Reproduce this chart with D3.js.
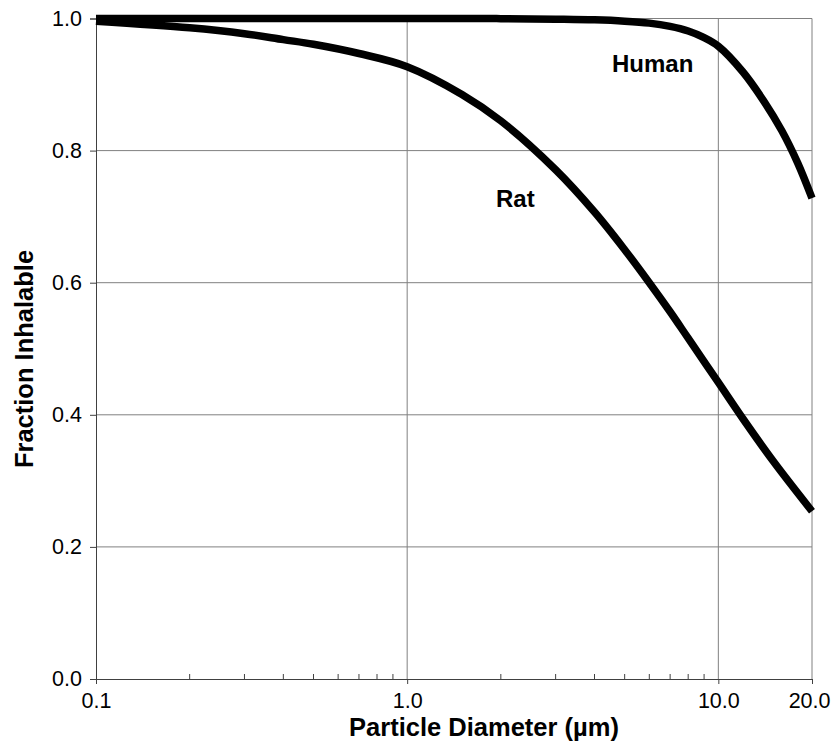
<!DOCTYPE html>
<html>
<head>
<meta charset="utf-8">
<script src="https://cdn.jsdelivr.net/npm/d3@7"></script>
<style>
  html, body { margin: 0; padding: 0; background: #fff; }
  svg { display: block; font-family: "Liberation Sans", Arial, sans-serif; }
</style>
</head>
<body>
<svg id="chart" width="834" height="755"></svg>
<script>
// Inhalable fraction vs. particle diameter (log scale)
const ratDiameter = [0.1, 0.2, 0.3, 0.4, 0.5, 0.7, 1, 1.5, 2, 3, 4, 5, 6, 7, 8, 10, 12, 15, 20];
const ratFraction = [0.996, 0.986, 0.977, 0.968, 0.961, 0.947, 0.927, 0.885, 0.845, 0.771, 0.707, 0.650, 0.600, 0.556, 0.516, 0.449, 0.394, 0.330, 0.254];

const humanDiameter = [0.1, 1, 2, 3, 4, 5, 6, 7, 8, 9, 10, 12, 14, 16, 18, 20];
const humanFraction = [1.0, 1.0, 0.9998, 0.999, 0.998, 0.996, 0.993, 0.988, 0.981, 0.971, 0.958, 0.919, 0.875, 0.830, 0.781, 0.728];

const xTickValues = [0.1, 1, 10, 20];
const xTickLabels = ["0.1", "1.0", "10.0", "20.0"];
const xGridValues = [1, 10];
const xMinorValues = [0.2, 0.3, 0.4, 0.5, 0.6, 0.7, 0.8, 0.9, 2, 3, 4, 5, 6, 7, 8, 9];
const yTickValues = [0, 0.2, 0.4, 0.6, 0.8, 1.0];
const yTickLabels = ["0.0", "0.2", "0.4", "0.6", "0.8", "1.0"];

const svg = d3.select("#chart");
const pageW = 834;
const plotL = 96, plotR = 812, plotT = 18.5, plotB = 679;

const x = d3.scaleLog().domain([0.1, 20]).range([plotL, plotR]);
const y = d3.scaleLinear().domain([0, 1]).range([plotB, plotT]);

const gridColor = "#808080";
const axisColor = "#404040";
const tickFont = 21.5;

// horizontal gridlines
svg.append("g").selectAll("line")
  .data(yTickValues.filter(v => v > 0))
  .join("line")
  .attr("x1", plotL).attr("x2", plotR)
  .attr("y1", d => y(d)).attr("y2", d => y(d))
  .attr("stroke", gridColor).attr("stroke-width", 1);

// vertical gridlines and right border
svg.append("g").selectAll("line")
  .data(xGridValues.concat([20]))
  .join("line")
  .attr("x1", d => x(d)).attr("x2", d => x(d))
  .attr("y1", plotT).attr("y2", plotB)
  .attr("stroke", gridColor).attr("stroke-width", 1);

// left axis
const yAxis = svg.append("g").attr("transform", `translate(${plotL},0)`)
  .call(d3.axisLeft(y).tickValues(yTickValues).tickSize(6).tickPadding(8)
    .tickFormat((d, i) => yTickLabels[i]));
yAxis.select(".domain").attr("stroke", axisColor);
yAxis.selectAll(".tick line").attr("stroke", axisColor);
yAxis.selectAll("text").attr("font-size", tickFont).attr("fill", "#000")
  .attr("font-family", "Liberation Sans, Arial, sans-serif");

// bottom axis
const xAxis = svg.append("g").attr("transform", `translate(0,${plotB})`)
  .call(d3.axisBottom(x).tickValues(xTickValues).tickSize(5).tickPadding(9)
    .tickFormat((d, i) => xTickLabels[i]));
xAxis.select(".domain").attr("stroke", axisColor);
xAxis.selectAll(".tick line").attr("stroke", axisColor);
xAxis.selectAll("text").attr("font-size", tickFont).attr("fill", "#000")
  .attr("font-family", "Liberation Sans, Arial, sans-serif");
// keep the last label inside the page
xAxis.selectAll(".tick text").each(function (d) {
  const w = this.getComputedTextLength();
  const overflow = x(d) + w / 2 - (pageW - 4);
  if (overflow > 0) d3.select(this).attr("dx", -overflow);
});

// minor ticks on x axis, pointing into the plot
svg.append("g").selectAll("line")
  .data(xMinorValues)
  .join("line")
  .attr("x1", d => x(d)).attr("x2", d => x(d))
  .attr("y1", plotB).attr("y2", plotB - 5)
  .attr("stroke", axisColor).attr("stroke-width", 1);

// top border
svg.append("line")
  .attr("x1", plotL).attr("x2", plotR).attr("y1", plotT).attr("y2", plotT)
  .attr("stroke", gridColor).attr("stroke-width", 1);

// curves
const line = d3.line()
  .x(d => x(d[0]))
  .y(d => y(d[1]))
  .curve(d3.curveCatmullRom.alpha(0.5));

const ratData = ratDiameter.map((d, i) => [d, ratFraction[i]]);
const humanData = humanDiameter.map((d, i) => [d, humanFraction[i]]);

[ratData, humanData].forEach(data => {
  svg.append("path")
    .datum(data)
    .attr("d", line)
    .attr("fill", "none")
    .attr("stroke", "#000")
    .attr("stroke-width", 7.5)
    .attr("stroke-linejoin", "round")
    .attr("stroke-linecap", "butt");
});

// series labels
svg.append("text").text("Human")
  .attr("x", 612).attr("y", 72)
  .attr("font-size", 24).attr("font-weight", "bold").attr("fill", "#000");
svg.append("text").text("Rat")
  .attr("x", 496).attr("y", 207)
  .attr("font-size", 24).attr("font-weight", "bold").attr("fill", "#000");

// axis titles
svg.append("text").text("Particle Diameter (µm)")
  .attr("x", 484).attr("y", 736)
  .attr("text-anchor", "middle")
  .attr("font-size", 25.5).attr("font-weight", "bold").attr("fill", "#000");
svg.append("text").text("Fraction Inhalable")
  .attr("transform", "translate(33,359) rotate(-90)")
  .attr("text-anchor", "middle")
  .attr("font-size", 25.5).attr("font-weight", "bold").attr("fill", "#000");
</script>
</body>
</html>
